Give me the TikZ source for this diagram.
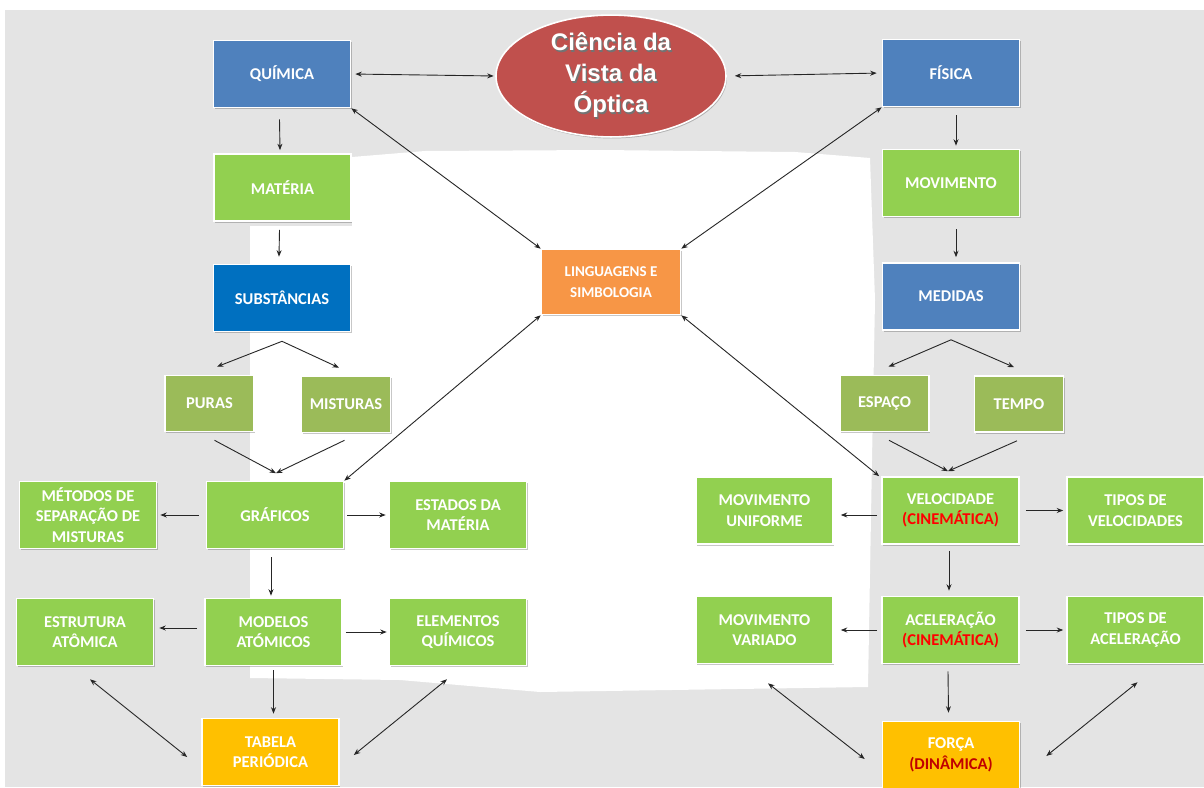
\documentclass[tikz,border=0pt]{standalone}
\usepackage{fontspec}
\setmainfont{Carlito}
\newfontfamily\titlefont{Liberation Sans}
\usetikzlibrary{arrows.meta,shapes.geometric,shadows}

\definecolor{bggray}{HTML}{E4E4E4}
\definecolor{cblue}{HTML}{4F81BD}
\definecolor{cdeepblue}{HTML}{0070C0}
\definecolor{cgreen}{HTML}{92D050}
\definecolor{colive}{HTML}{9BBB59}
\definecolor{corange}{HTML}{F79646}
\definecolor{cyellow}{HTML}{FFC000}
\definecolor{cellipse}{HTML}{C0504D}
\definecolor{cred}{HTML}{FF0000}
\definecolor{cdarkred}{HTML}{C00000}

% white text with a soft dark shadow
\newcommand\shtext[1]{\makebox[0pt][l]{\raisebox{-1.3pt}{\hspace{1.3pt}\textcolor{black!55}{#1}}}#1}

\tikzset{
  box/.style={rectangle, draw=white, line width=1.6pt, align=center,
    text=white, inner sep=2pt, minimum width=137pt, minimum height=67pt,
    font=\fontsize{16.5}{20.5}\selectfont\bfseries,
    drop shadow={shadow xshift=1pt, shadow yshift=-1.5pt, opacity=0.22, fill=black}},
  bluebox/.style={box, fill=cblue},
  deepbox/.style={box, fill=cdeepblue},
  greenbox/.style={box, fill=cgreen},
  olivebox/.style={box, fill=colive, minimum width=89pt, minimum height=56pt},
  orangebox/.style={box, fill=corange, minimum width=139pt, minimum height=65pt,
    font=\fontsize{15}{21}\selectfont\bfseries},
  yellowbox/.style={box, fill=cyellow},
  conn/.style={line width=0.9pt, draw=black!85, -{Stealth[length=6.5pt,width=5pt]}},
  dconn/.style={line width=0.9pt, draw=black!85, {Stealth[length=6.5pt,width=5pt]}-{Stealth[length=6.5pt,width=5pt]}}
}

\begin{document}
\begin{tikzpicture}[x=1pt,y=-1pt]
\useasboundingbox (0,0) rectangle (1204,787);
% backdrop
\fill[bggray] (5,10) rectangle (1204,787);
\fill[white] (250,226) -- (352,226) -- (352,157) -- (425,151) -- (600,150)
  -- (795,152) -- (870,158) -- (875,300) -- (872,460) -- (868,687)
  -- (540,692) -- (400,680) -- (250,678) -- cycle;

% central title
\node[ellipse, fill=cellipse, draw=white, line width=1.6pt,
  minimum width=230pt, minimum height=119pt, inner sep=0pt, align=center,
  text=white, font=\titlefont\fontsize{24}{31}\selectfont\bfseries,
  drop shadow={shadow xshift=1pt, shadow yshift=-1.5pt, opacity=0.22, fill=black}]
  (ell) at (611,76) {\shtext{Ciência da}\\\shtext{Vista da}\\\shtext{Óptica}};

% chemistry column
\node[bluebox]   (quim) at (282,74)    {QUÍMICA};
\node[greenbox]  (mat)  at (282.5,187.5) {MATÉRIA};
\node[deepbox]   (subs) at (282,298)   {SUBSTÂNCIAS};
\node[olivebox]  (puras) at (209.5,403.5) {PURAS};
\node[olivebox]  (mist) at (346,404.5) {MISTURAS};
\node[greenbox]  (graf) at (275,515)   {GRÁFICOS};
\node[greenbox]  (met)  at (88,515)    {MÉTODOS DE\\SEPARAÇÃO DE\\MISTURAS};
\node[greenbox]  (est)  at (458,515)   {ESTADOS DA\\MATÉRIA};
\node[greenbox]  (estr) at (85,632)    {ESTRUTURA\\ATÔMICA};
\node[greenbox]  (mod)  at (273.5,632) {MODELOS\\ATÓMICOS};
\node[greenbox]  (elem) at (458,632)   {ELEMENTOS\\QUÍMICOS};
\node[yellowbox] (tab)  at (270.5,752) {TABELA\\PERIÓDICA};

% centre
\node[orangebox] (ling) at (611,282) {LINGUAGENS E\\SIMBOLOGIA};

% physics column
\node[bluebox]   (fis)  at (951,73)    {FÍSICA};
\node[greenbox]  (mov)  at (951,183)   {MOVIMENTO};
\node[bluebox]   (med)  at (951,296.5) {MEDIDAS};
\node[olivebox]  (esp)  at (884.5,403.5) {ESPAÇO};
\node[olivebox]  (tempo) at (1019,404) {TEMPO};
\node[greenbox]  (vel)  at (950.5,510.5) {VELOCIDADE\\\textcolor{cred}{(CINEMÁTICA)}};
\node[greenbox]  (movuni) at (764.5,510.5) {MOVIMENTO\\UNIFORME};
\node[greenbox]  (tipv) at (1135.5,510.5) {TIPOS DE\\VELOCIDADES};
\node[greenbox]  (acel) at (950.5,630) {ACELERAÇÃO\\\textcolor{cred}{(CINEMÁTICA)}};
\node[greenbox]  (movvar) at (764.5,630) {MOVIMENTO\\VARIADO};
\node[greenbox]  (tipa) at (1135.5,630) {TIPOS DE\\ACELERAÇÃO};
\node[yellowbox] (forca) at (951,755) {FORÇA\\\textcolor{cdarkred}{(DINÂMICA)}};

% top links
\draw[dconn, shorten <=4pt, shorten >=1.5pt] (quim.east) -- (ell.west);
\draw[dconn, shorten <=8pt, shorten >=5pt] (ell.east) -- (fis.west);
\draw[dconn] (quim.south east) -- (ling.north west);
\draw[dconn] (fis.south west) -- (ling.north east);

% chemistry chain
\draw[conn] ([xshift=-2.5pt,yshift=-11pt]quim.south) -- ([xshift=-2.5pt,yshift=3pt]mat.north);
\draw[conn] ([xshift=-3pt,yshift=-8pt]mat.south) -- ([xshift=-3pt,yshift=7pt]subs.north);
\coordinate (sfork) at ([yshift=-9pt]subs.south);
\draw[conn] (sfork) -- ([xshift=7.5pt,yshift=8pt]puras.north);
\draw[conn] (sfork) -- ([xshift=-7pt,yshift=8pt]mist.north);
\draw[conn] ([xshift=5pt,yshift=-8pt]puras.south) -- ([xshift=1pt,yshift=7.5pt]graf.north);
\draw[conn] ([xshift=-1.5pt,yshift=-7pt]mist.south) -- ([xshift=1pt,yshift=7.5pt]graf.north);
\draw[dconn] (graf.north east) -- (ling.south west);
\draw[conn] ([xshift=-7pt]graf.west) -- ([xshift=3pt]met.east);
\draw[conn] ([xshift=3pt]graf.east) -- ([xshift=-3pt]est.west);
\draw[conn] ([xshift=-4pt,yshift=-8pt]graf.south) -- ([xshift=-2.5pt,yshift=2pt]mod.north);
\draw[conn] ([xshift=-7pt,yshift=4pt]mod.west) -- ([xshift=5pt,yshift=4pt]estr.east);
\draw[conn] ([xshift=3pt]mod.east) -- ([xshift=-2pt]elem.west);
\draw[conn] ([yshift=-4pt]mod.south) -- ([xshift=3pt,yshift=4pt]tab.north);
\draw[dconn] ([xshift=5pt,yshift=-13pt]estr.south) -- ([xshift=-14pt,yshift=-5pt]tab.west);
\draw[dconn] ([xshift=-11pt,yshift=-13pt]elem.south) -- ([xshift=14pt,yshift=-3pt]tab.east);

% physics chain
\draw[conn] ([xshift=5pt,yshift=-8pt]fis.south) -- ([xshift=5pt,yshift=3pt]mov.north);
\draw[conn] ([xshift=5pt,yshift=-12pt]mov.south) -- ([xshift=5pt,yshift=5pt]med.north);
\coordinate (mfork) at ([yshift=-9pt]med.south);
\draw[conn] (mfork) -- ([xshift=4pt,yshift=8pt]esp.north);
\draw[conn] (mfork) -- ([xshift=-5pt,yshift=8pt]tempo.north);
\draw[conn] ([xshift=4.5pt,yshift=-8pt]esp.south) -- ([xshift=-2.5pt,yshift=5pt]vel.north);
\draw[conn] ([xshift=-2pt,yshift=-8pt]tempo.south) -- ([xshift=-2.5pt,yshift=5pt]vel.north);
\draw[dconn] (ling.south east) -- ([xshift=-2pt]vel.north west);
\draw[conn] ([xshift=-4pt,yshift=-4.5pt]vel.west) -- ([xshift=7pt,yshift=-4.5pt]movuni.east);
\draw[conn] ([xshift=6pt]vel.east) -- ([xshift=-3pt]tipv.west);
\draw[conn] ([xshift=-1.5pt,yshift=-6pt]vel.south) -- ([xshift=-1.5pt,yshift=5pt]acel.north);
\draw[conn] ([xshift=-4pt]acel.west) -- ([xshift=7pt]movvar.east);
\draw[conn] ([xshift=6pt]acel.east) -- ([xshift=-3pt]tipa.west);
\draw[conn] ([xshift=-2.5pt,yshift=-7pt]acel.south) -- ([xshift=-2.5pt,yshift=8pt]forca.north);
\draw[dconn] ([xshift=3.5pt,yshift=-19pt]movvar.south) -- ([xshift=-17pt,yshift=-4pt]forca.west);
\draw[dconn] ([xshift=2pt,yshift=-18pt]tipa.south) -- ([xshift=26pt,yshift=-1pt]forca.east);
\end{tikzpicture}
\end{document}
